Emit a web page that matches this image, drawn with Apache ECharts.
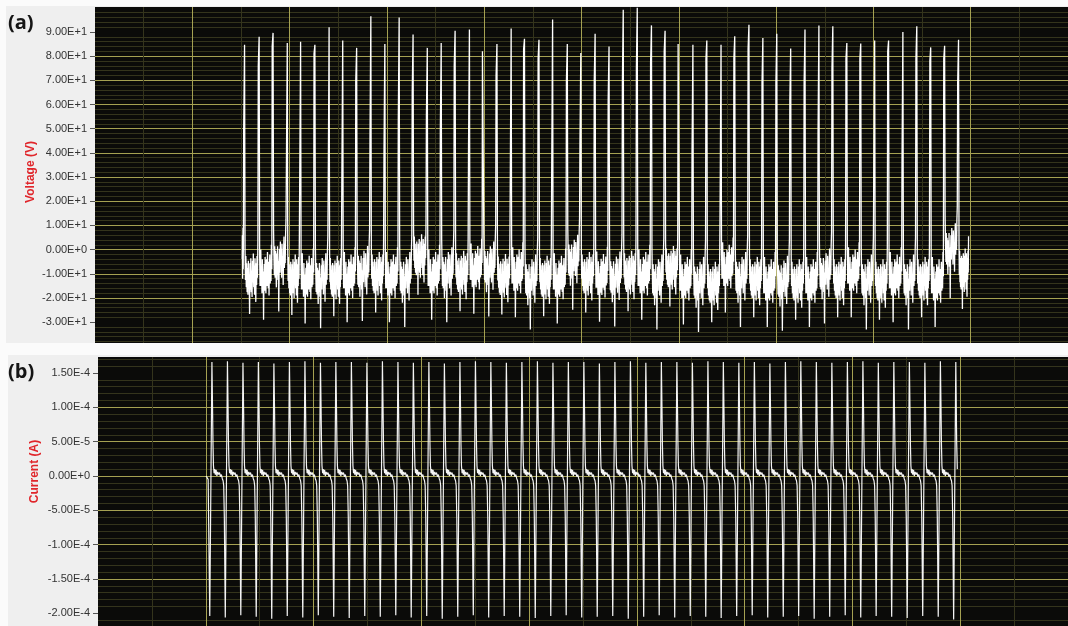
<!DOCTYPE html>
<html>
<head>
<meta charset="utf-8">
<script src="https://cdn.jsdelivr.net/npm/echarts@6/dist/echarts.min.js"></script>
<style>
  html, body { margin: 0; padding: 0; background: #fbfbfb; }
  #chart { width: 1068px; height: 626px; }
</style>
</head>
<body>
<div id="chart"></div>
<script>
// ---------- Panel (a): membrane voltage ----------
// Axis tick values (V)
const vTicks = [-30, -20, -10, 0, 10, 20, 30, 40, 50, 60, 70, 80, 90];
// Recording window on the time axis
const vOnset = 1.513;
const vOffset = 8.978;
// Spike instants (time-axis units)
const vSpikeT = [1.537, 1.687, 1.830, 1.976, 2.113, 2.260, 2.406, 2.546, 2.689, 2.835,
  2.979, 3.126, 3.269, 3.415, 3.558, 3.701, 3.848, 3.991, 4.131, 4.277,
  4.414, 4.563, 4.703, 4.854, 4.993, 5.140, 5.283, 5.429, 5.573, 5.719,
  5.859, 6.002, 6.145, 6.288, 6.434, 6.575, 6.721, 6.864, 7.007, 7.150,
  7.297, 7.440, 7.583, 7.727, 7.870, 8.013, 8.156, 8.303, 8.446, 8.589,
  8.732, 8.875];
// Spike peak voltage (V)
const vPeak = [84.7, 88, 89.6, 85.4, 85.9, 84.7, 91.9, 86.5, 83.4, 96.5,
  85, 96, 88.9, 83.4, 85.4, 90.5, 91, 82.3, 85, 91.4,
  87.2, 86.8, 95.1, 85, 81.3, 89.2, 84, 99.2, 100, 92.7,
  90.5, 85.4, 84.7, 86.4, 84.7, 88.2, 93, 87.5, 89.2, 83.1,
  91, 92.6, 92.3, 85.4, 85.2, 86.4, 86.4, 90, 92.3, 83.6,
  84.3, 86.8];
// Sample on the rising edge of each spike (V)
const vEdge = [50, 76, 84, 34, 30, 81, 26, 30, 70, 45,
  40, 54, 65, 55, 49, 76, 43, 82, 72, 30,
  83, 79, 35, 70, 44, 70, 62, 69, 75, 77,
  82, 85, 41, 79, 23, 79, 83, 69, 69, 62,
  69, 48, 75, 79, 79, 34, 82, 37, 79, 78,
  79, 69];
// Baseline level between each spike and the next (V)
const vBase = [-11.6, -11, -5.6, -12, -12.5, -12.5, -12.5, -12, -9.5, -11,
  -12, -12, -3.6, -11, -10, -10.5, -8.5, -7.6, -11.8, -10,
  -13, -12.5, -12.5, -4.9, -11, -11.8, -11.8, -10.5, -11, -13,
  -8.5, -13, -14, -15, -8, -12, -13, -14, -13.5, -14,
  -14, -10.5, -13, -10, -13, -14, -12, -13, -13, -14,
  -0.1, -9.5];
// Trace before the first spike (V)
const vLead = [-4, 6, -12, -3, 9, -8, 2];
// Baseline ripple patterns around the level (V)
const vRipple = [
  [12, -1, 9, -4, 6, -6, 4, -7, 7, -3, 1, -15, 6, -5, 8, -6, 3, -8, 7, -2, 10, -4, 5, -7, 8, -1, -10, 6, -3, 9, 0, 15],
  [9, -4, 5, 11, -4, 3, -7, 7, -5, 2, -18, -1, 5, -6, 8, -2, -7, 6, 7, -4, 10, 1, -5, 6, -8, 4, 9, -3, 5, -2, 13, 3],
  [14, 3, -5, 7, -6, 5, -2, -10, 4, -5, 7, -7, 1, -20, -1, 6, -4, 9, 0, 6, -6, 8, -3, 3, -9, 5, 11, -2, 8, 0, 12, 18]
];

// ---------- Panel (b): membrane current ----------
const cTicks = [-2.0e-4, -1.5e-4, -1.0e-4, -5.0e-5, 0, 5.0e-5, 1.0e-4, 1.5e-4];
// Trace before the first cycle: [time, A]
const cLead = [[1.003, 0], [1.022, -0.05e-4]];
// Peak instants (time-axis units)
const cPeakT = [1.057, 1.201, 1.345, 1.488, 1.632, 1.776, 1.920, 2.064, 2.207, 2.351,
  2.495, 2.639, 2.783, 2.926, 3.070, 3.214, 3.358, 3.502, 3.645, 3.789,
  3.933, 4.077, 4.221, 4.364, 4.508, 4.652, 4.796, 4.940, 5.083, 5.227,
  5.371, 5.515, 5.659, 5.802, 5.946, 6.090, 6.234, 6.378, 6.521, 6.665,
  6.809, 6.953, 7.097, 7.240, 7.384, 7.528, 7.672, 7.816, 7.959];
// Positive peak of each cycle (A)
const cPeak = [1.66e-4, 1.67e-4, 1.65e-4, 1.66e-4, 1.64e-4, 1.66e-4, 1.67e-4, 1.65e-4, 1.66e-4, 1.66e-4,
  1.65e-4, 1.67e-4, 1.66e-4, 1.65e-4, 1.66e-4, 1.64e-4, 1.66e-4, 1.67e-4, 1.66e-4, 1.65e-4,
  1.66e-4, 1.67e-4, 1.65e-4, 1.66e-4, 1.66e-4, 1.64e-4, 1.66e-4, 1.67e-4, 1.65e-4, 1.66e-4,
  1.66e-4, 1.65e-4, 1.67e-4, 1.66e-4, 1.65e-4, 1.66e-4, 1.64e-4, 1.66e-4, 1.67e-4, 1.66e-4,
  1.65e-4, 1.66e-4, 1.67e-4, 1.65e-4, 1.66e-4, 1.66e-4, 1.65e-4, 1.67e-4, 1.66e-4];
// Negative trough just before each peak (A)
const cTrough = [-2.04e-4, -2.06e-4, -2.03e-4, -2.05e-4, -2.08e-4, -2.04e-4, -2.06e-4, -2.03e-4, -2.05e-4, -2.07e-4,
  -2.04e-4, -2.05e-4, -2.03e-4, -2.06e-4, -2.04e-4, -2.08e-4, -2.05e-4, -2.03e-4, -2.06e-4, -2.04e-4,
  -2.05e-4, -2.07e-4, -2.04e-4, -2.03e-4, -2.06e-4, -2.05e-4, -2.04e-4, -2.08e-4, -2.05e-4, -2.03e-4,
  -2.06e-4, -2.04e-4, -2.05e-4, -2.07e-4, -2.04e-4, -2.03e-4, -2.06e-4, -2.05e-4, -2.04e-4, -2.08e-4,
  -2.05e-4, -2.03e-4, -2.06e-4, -2.04e-4, -2.05e-4, -2.07e-4, -2.04e-4, -2.05e-4, -2.09e-4];
// Decay after a peak: [fraction of the cycle, A]
const cSettle = [[0.04, 1.0e-4], [0.07, 0.45e-4], [0.10, 0.15e-4], [0.14, 0.04e-4], [0.18, 0.1e-4],
  [0.22, 0.02e-4], [0.27, 0.09e-4], [0.32, 0.0], [0.37, 0.06e-4], [0.43, 0.02e-4], [0.49, 0.05e-4],
  [0.55, -0.01e-4], [0.61, 0.02e-4], [0.67, -0.04e-4], [0.72, -0.07e-4], [0.76, -0.14e-4], [0.80, -0.6e-4]];
// Trace after the last peak: [time after peak, A]
const cTail = [[0.008, 0.5e-4], [0.014, 0.1e-4]];

// ---------- Build the traces ----------
const vData = [];
const leadEnd = vSpikeT[0] - 0.012;
vLead.forEach((v, k) => vData.push([vOnset + (leadEnd - vOnset) * k / (vLead.length - 1), v]));
vSpikeT.forEach((tp, i) => {
  vData.push([tp - 0.009, vEdge[i]]);
  vData.push([tp, vPeak[i]]);
  const t0 = tp + 0.005;
  const t1 = i + 1 < vSpikeT.length ? vSpikeT[i + 1] - 0.013 : vOffset;
  const r = vRipple[i % vRipple.length];
  r.forEach((d, k) => vData.push([t0 + (t1 - t0) * k / (r.length - 1), vBase[i] + d]));
});

const cData = cLead.slice();
cPeakT.forEach((tp, i) => {
  cData.push([tp - 0.02, cTrough[i]]);
  cData.push([tp, cPeak[i]]);
  if (i + 1 < cPeakT.length) {
    const span = cPeakT[i + 1] - tp;
    cSettle.forEach(([f, v]) => cData.push([tp + f * span, v]));
  } else {
    cTail.forEach(([dt, v]) => cData.push([tp + dt, v]));
  }
});

// ---------- Styling ----------
const majorColor = '#a5a152';
const minorColor = '#34341c';
const plotBg = '#0b0b09';
const sciFmt = v => v.toExponential(2).replace('e', 'E');

function timeAxis(gridIndex, max) {
  return {
    type: 'value', gridIndex, min: 0, max, interval: 1,
    axisLine: { show: false }, axisTick: { show: false }, axisLabel: { show: false },
    splitLine: { show: true, showMinLine: false, showMaxLine: false, lineStyle: { color: majorColor, width: 1 } },
    minorTick: { show: false, splitNumber: 2 },
    minorSplitLine: { show: true, lineStyle: { color: minorColor, width: 1 } }
  };
}

function valueAxis(gridIndex, min, max, splitNumber, ticks, name, nameGap, namePad) {
  return {
    type: 'value', gridIndex, min, max, splitNumber,
    axisLine: { show: false },
    axisTick: { show: true, length: 5, customValues: ticks, lineStyle: { color: '#555', width: 1 } },
    axisLabel: { customValues: ticks, formatter: sciFmt, color: '#333', fontSize: 11,
      fontFamily: 'Liberation Sans', margin: 8 },
    splitLine: { show: true, showMinLine: false, showMaxLine: false, lineStyle: { color: majorColor, width: 1 } },
    minorTick: { show: false, splitNumber: 5 },
    minorSplitLine: { show: true, lineStyle: { color: minorColor, width: 1 } },
    name, nameLocation: 'middle', nameGap, nameMoveOverlap: false,
    nameTextStyle: { color: '#e0262b', fontWeight: 'bold', fontSize: 12, fontFamily: 'Liberation Sans', padding: namePad }
  };
}

const chart = echarts.init(document.getElementById('chart'), null, { renderer: 'canvas' });
chart.setOption({
  animation: false,
  backgroundColor: '#fbfbfb',
  graphic: [
    { type: 'rect', z: -100, shape: { x: 6, y: 6, width: 1062, height: 337 }, style: { fill: '#efefef' } },
    { type: 'rect', z: -100, shape: { x: 8, y: 355, width: 1060, height: 271 }, style: { fill: '#efefef' } },
    { type: 'text', left: 8, top: 13, style: { text: '(a)', font: 'bold 20px "Open Sans"', fill: '#151515' } },
    { type: 'text', left: 8, top: 362, style: { text: '(b)', font: 'bold 20px "Open Sans"', fill: '#151515' } }
  ],
  grid: [
    { left: 95, top: 7, right: -3, height: 336, show: true, backgroundColor: plotBg, borderWidth: 0 },
    { left: 98, top: 357, right: -7, bottom: 0, show: true, backgroundColor: plotBg, borderWidth: 0 }
  ],
  xAxis: [timeAxis(0, 10), timeAxis(1, 9)],
  yAxis: [
    valueAxis(0, -38.6, 100.3, 14, vTicks, 'Voltage (V)', 58, [0, 0, 0, 6]),
    valueAxis(1, -2.185e-4, 1.733e-4, 8, cTicks, 'Current (A)', 57, [0, 0, 0, 40])
  ],
  series: [
    { type: 'line', xAxisIndex: 0, yAxisIndex: 0, data: vData, symbol: 'none', silent: true,
      lineStyle: { color: '#ffffff', width: 1.3 } },
    { type: 'line', xAxisIndex: 1, yAxisIndex: 1, data: cData, symbol: 'none', silent: true,
      lineStyle: { color: '#f4f4f4', width: 1.2 } }
  ]
});
</script>
</body>
</html>
